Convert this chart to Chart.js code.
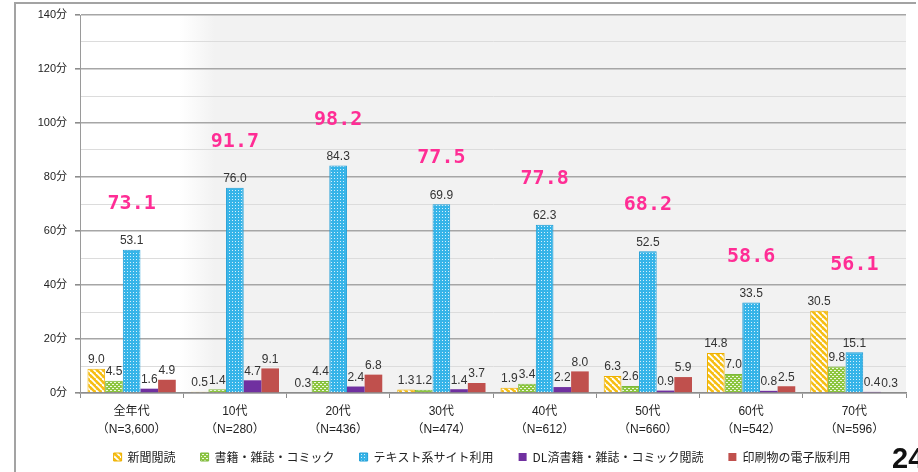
<!DOCTYPE html>
<html>
<head>
<meta charset="utf-8">
<script src="https://cdn.jsdelivr.net/npm/chart.js@4/dist/chart.umd.min.js"></script>
<style>
  html, body { margin: 0; padding: 0; background: #ffffff; }
  #wrap { position: relative; width: 918px; height: 472px; overflow: hidden; }
  #frame { position: absolute; left: 14px; top: 2px; width: 900px; height: 480px;
           border-left: 2px solid #a3a3a3; border-top: 2px solid #a3a3a3; }
  #pageNo { position: absolute; left: 892px; top: 443px; font: bold 29px "Liberation Sans", sans-serif;
            line-height: 30px; color: #111; }
  canvas { position: absolute; left: 0; top: 0; }
</style>
</head>
<body>
<div id="wrap">
  <div id="frame"></div>
  <canvas id="timeChart" width="918" height="472"></canvas>
  <div id="pageNo">24</div>
</div>
<script>
// 年代別 テキスト系メディアの利用時間（分）

const ageGroups = [
  ['全年代', '（N=3,600）'],
  ['10代', '（N=280）'],
  ['20代', '（N=436）'],
  ['30代', '（N=474）'],
  ['40代', '（N=612）'],
  ['50代', '（N=660）'],
  ['60代', '（N=542）'],
  ['70代', '（N=596）']
];

const seriesNames = ['新聞閲読', '書籍・雑誌・コミック', 'テキスト系サイト利用', 'DL済書籍・雑誌・コミック閲読', '印刷物の電子版利用'];

const newspaper = [9.0, 0.5, 0.3, 1.3, 1.9, 6.3, 14.8, 30.5];
const booksMagazines = [4.5, 1.4, 4.4, 1.2, 3.4, 2.6, 7.0, 9.8];
const textSites = [53.1, 76.0, 84.3, 69.9, 62.3, 52.5, 33.5, 15.1];
const downloadedBooks = [1.6, 4.7, 2.4, 1.4, 2.2, 0.9, 0.8, 0.4];
const printEditions = [4.9, 9.1, 6.8, 3.7, 8.0, 5.9, 2.5, 0.3];

// pink hand-written totals
const totals = [73.1, 91.7, 98.2, 77.5, 77.8, 68.2, 58.6, 56.1];

const yTicks = [0, 20, 40, 60, 80, 100, 120, 140];

// --- Patterns ---

function makeTile(w, h, draw) {
  const c = document.createElement('canvas');
  c.width = w;
  c.height = h;
  draw(c.getContext('2d'));
  return document.createElement('canvas').getContext('2d').createPattern(c, 'repeat');
}

const stripeYellow = makeTile(6, 6, (g) => {
  g.fillStyle = '#f6be12';
  g.fillRect(0, 0, 6, 6);
  g.strokeStyle = '#ffffff';
  g.lineWidth = 1.8;
  for (const k of [-6, 0, 6]) {
    g.beginPath();
    g.moveTo(k, 0);
    g.lineTo(k + 6, 6);
    g.stroke();
  }
});

const brickGreen = makeTile(4, 4, (g) => {
  g.fillStyle = '#8dc63f';
  g.fillRect(0, 0, 4, 4);
  g.fillStyle = 'rgba(255,255,255,0.85)';
  g.fillRect(0, 0, 2, 1);
  g.fillRect(2, 2, 2, 1);
});

const dotsBlue = makeTile(3, 3, (g) => {
  g.fillStyle = '#36b4e8';
  g.fillRect(0, 0, 3, 3);
  g.fillStyle = 'rgba(255,255,255,0.8)';
  g.fillRect(1, 1, 1, 1);
});

// --- Plugins ---

const backdrop = {
  id: 'backdrop',
  beforeDraw(chart) {
    const { ctx, chartArea: a } = chart;
    const grad = ctx.createLinearGradient(a.left + 100, 0, a.left + 135, 0);
    grad.addColorStop(0, '#ffffff');
    grad.addColorStop(1, '#f2f2f2');
    ctx.save();
    ctx.fillStyle = grad;
    ctx.fillRect(a.left, a.top, a.right - a.left, a.bottom - a.top);
    ctx.restore();
  }
};

// move the legend row a little up and right, like the original slide
const legendShift = {
  id: 'legendShift',
  afterLayout(chart) {
    const lg = chart.legend;
    lg.top -= 12;
    lg.left += 29;
    lg.right += 29;
  }
};

const valueLabels = {
  id: 'valueLabels',
  afterDatasetsDraw(chart) {
    const ctx = chart.ctx;
    ctx.save();
    ctx.font = '12px "Liberation Sans", Arial, sans-serif';
    ctx.fillStyle = '#333333';
    ctx.textAlign = 'center';
    ctx.textBaseline = 'bottom';
    chart.data.datasets.forEach((ds, di) => {
      chart.getDatasetMeta(di).data.forEach((bar, i) => {
        ctx.fillText(ds.data[i].toFixed(1), bar.x, bar.y - 3);
      });
    });

    // totals above each group
    ctx.font = 'bold 20px "DejaVu Sans Mono", monospace';
    ctx.fillStyle = '#ff2d95';
    ctx.textBaseline = 'middle';
    const xScale = chart.scales.x;
    totals.forEach((t, i) => {
      let top = Infinity;
      chart.data.datasets.forEach((ds, di) => {
        top = Math.min(top, chart.getDatasetMeta(di).data[i].y);
      });
      ctx.fillText(t.toFixed(1), xScale.getPixelForValue(i), top - 46);
    });
    ctx.restore();
  }
};

// --- Chart ---

const ctx = document.getElementById('timeChart').getContext('2d');

new Chart(ctx, {
  type: 'bar',
  data: {
    labels: ageGroups,
    datasets: [
      { label: seriesNames[0], data: newspaper, backgroundColor: stripeYellow, borderColor: '#eeb000', borderWidth: 1 },
      { label: seriesNames[1], data: booksMagazines, backgroundColor: brickGreen, borderColor: '#7cb83a', borderWidth: 1 },
      { label: seriesNames[2], data: textSites, backgroundColor: dotsBlue, borderColor: '#1c9dd6', borderWidth: 1 },
      { label: seriesNames[3], data: downloadedBooks, backgroundColor: '#7030a0', borderWidth: 0 },
      { label: seriesNames[4], data: printEditions, backgroundColor: '#c0504d', borderWidth: 0 }
    ]
  },
  options: {
    responsive: false,
    animation: false,
    devicePixelRatio: 1,
    layout: { padding: { left: 0, right: 12, top: 15, bottom: 0 } },
    datasets: {
      bar: { categoryPercentage: 0.855, barPercentage: 1.0 }
    },
    scales: {
      x: {
        grid: {
          offset: true,
          drawOnChartArea: false,
          drawTicks: true,
          tickLength: 5,
          color: '#8c8c8c'
        },
        border: { color: '#8c8c8c', width: 1.5 },
        ticks: {
          color: '#222222',
          padding: 5,
          maxRotation: 0,
          font: { family: '"Liberation Sans", "Noto Sans CJK JP", sans-serif', size: 12, lineHeight: 1.5 }
        },
        afterFit: (s) => { s.height = 45; }
      },
      y: {
        min: 0,
        max: 140,
        grid: {
          color: (c) => (yTicks.includes(c.tick.value) ? '#a6a6a6' : '#dcdcdc'),
          lineWidth: (c) => (yTicks.includes(c.tick.value) ? 1.6 : 1),
          tickColor: (c) => (yTicks.includes(c.tick.value) ? '#8c8c8c' : 'rgba(0,0,0,0)'),
          tickLength: 5
        },
        border: { color: '#9a9a9a', width: 1 },
        ticks: {
          stepSize: 10,
          autoSkip: false,
          padding: 8,
          color: '#222222',
          font: { family: '"Liberation Sans", "Noto Sans CJK JP", sans-serif', size: 11 },
          callback: (v) => (yTicks.includes(v) ? v + '分' : '')
        },
        afterFit: (s) => { s.width = 80; }
      }
    },
    plugins: {
      legend: {
        position: 'bottom',
        maxHeight: 34,
        labels: {
          boxWidth: 8,
          boxHeight: 8,
          padding: 25,
          color: '#222222',
          font: { family: '"Noto Sans CJK JP", sans-serif', size: 12 }
        }
      },
      tooltip: { enabled: false }
    }
  },
  plugins: [backdrop, legendShift, valueLabels]
});
</script>
</body>
</html>
